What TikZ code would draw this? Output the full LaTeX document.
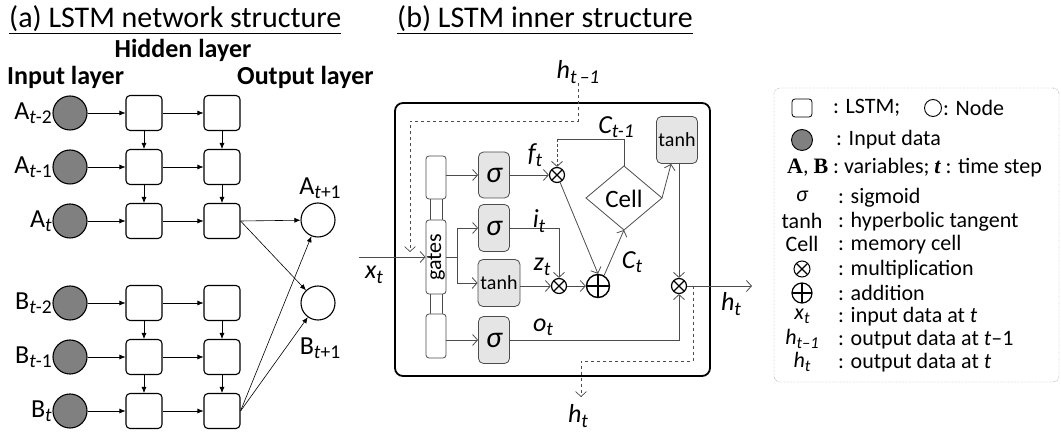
\documentclass[tikz,border=0pt]{standalone}
\usepackage{fontspec}
\setmainfont{Carlito}
\newfontfamily\tnr{Liberation Serif}
\usetikzlibrary{arrows.meta,calc}
\newcommand\sbs[2]{#1\raisebox{-0.35ex}{\scalebox{0.75}{#2}}}
\newcommand\fs[1]{\fontsize{#1}{#1}\selectfont}
\begin{document}
\begin{tikzpicture}[x=1pt,y=-1pt,
  lbox/.style={draw, rounded corners=4pt, minimum width=36pt, minimum height=35pt, line width=1.1pt},
  inp/.style={circle, draw, fill=black!50, minimum size=34pt, inner sep=0pt, line width=1.1pt},
  outn/.style={circle, draw, minimum size=34pt, inner sep=0pt, line width=1.1pt},
  larr/.style={-{Latex[length=6pt,width=5pt]}, line width=0.6pt},
  gbox/.style={draw=black!70, fill=black!10, rounded corners=5pt, line width=0.8pt, inner sep=0pt},
  wbar/.style={draw=black!70, fill=white, rounded corners=3pt, line width=0.8pt, inner sep=0pt, minimum width=20pt},
  marr/.style={-{Straight Barb[length=5pt,width=11pt]}, draw=black!70, line width=0.8pt},
  mline/.style={draw=black!70, line width=0.8pt},
  mul/.style={circle, draw, line width=1.2pt, minimum size=15pt, inner sep=0pt,
    path picture={\draw[line width=1.2pt] (path picture bounding box.south west) -- (path picture bounding box.north east)
      (path picture bounding box.north west) -- (path picture bounding box.south east);}},
  addn/.style={circle, draw, line width=1.4pt, minimum size=23pt, inner sep=0pt,
    path picture={\draw[line width=1.4pt] (path picture bounding box.south) -- (path picture bounding box.north)
      (path picture bounding box.west) -- (path picture bounding box.east);}},
  lab/.style={font=\fs{26}\itshape, inner sep=0pt},
  leg/.style={font=\fs{22}, anchor=west, inner sep=0pt},
  legs/.style={font=\fs{22}, inner sep=0pt},
]
\useasboundingbox (0,0) rectangle (1061,435);

% ---------- (a) ----------
\node[anchor=west, inner sep=0pt, font=\fs{30}] (ta) at (9,20) {\underline{(a) LSTM network structure}};
\node[font=\fs{26}\bfseries, inner sep=0pt] (hid) at (183,50) {Hidden layer};
\node[font=\fs{26}\bfseries, inner sep=0pt, anchor=west] (inl) at (7,77) {Input layer};
\node[font=\fs{26}\bfseries, inner sep=0pt, anchor=west] (oul) at (237,77) {Output layer};

\foreach \n/\y/\l in {A1/113/{A}{\textit{t}-2}, A2/167/{A}{\textit{t}-1}, A3/221/{A}{\textit{t}},
                      B1/303/{B}{\textit{t}-2}, B2/357/{B}{\textit{t}-1}, B3/411/{B}{\textit{t}}}{
  \node[inp] (\n i) at (70,\y) {};
  \node[lbox] (\n a) at (144,\y) {};
  \node[lbox] (\n b) at (222,\y) {};
  \node[anchor=east, inner sep=0pt, font=\fs{26}] (\n l) at (52,\y) {\expandafter\sbs\l};
  \draw[larr] (\n i) -- (\n a);
  \draw[larr] (\n a) -- (\n b);
}
\foreach \u/\v in {A1/A2, A2/A3, B1/B2, B2/B3}{
  \draw[larr] (\u a) -- (\v a);
  \draw[larr] (\u b) -- (\v b);
}
\node[outn] (oA) at (318,220) {};
\node[outn] (oB) at (318,303) {};
\node[font=\fs{26}, inner sep=0pt] (oAl) at (320,188) {\sbs{A}{\textit{t}+1}};
\node[font=\fs{26}, inner sep=0pt] (oBl) at (320,348) {\sbs{B}{\textit{t}+1}};
\draw[larr] (A3b.east) -- (oA);
\draw[larr] (A3b.east) -- (oB);
\draw[larr] (B3b.east) -- (oA);
\draw[larr] (B3b.east) -- (oB);

% ---------- (b) ----------
\node[anchor=west, inner sep=0pt, font=\fs{30}] (tb) at (397,20) {\underline{(b) LSTM inner structure}};
\node[draw, line width=1.8pt, rounded corners=8pt, minimum width=315pt, minimum height=273pt, inner sep=0pt] (outer) at (552.5,239.5) {};

% gates column
\node[wbar, minimum height=24pt, minimum width=12pt, rounded corners=0pt] (c1) at (436,209) {};
\node[wbar, minimum height=24pt, minimum width=12pt, rounded corners=0pt] (c2) at (436,304) {};
\node[wbar, minimum height=43pt] (g1) at (436,177.5) {};
\node[wbar, minimum height=74pt] (g2) at (436,257) {};
\node[rotate=90, font=\fs{22}, inner sep=0pt] (gt) at (436,257) {gates};
\node[wbar, minimum height=44pt] (g3) at (436,336) {};

% gate boxes
\node[gbox, minimum width=31pt, minimum height=46pt, font=\fs{30}\itshape] (s1) at (494,175) {σ};
\node[gbox, minimum width=31pt, minimum height=47pt, font=\fs{30}\itshape] (s2) at (494,228) {σ};
\node[gbox, minimum width=42pt, minimum height=47pt, font=\fs{20}] (th) at (499,283) {tanh};
\node[gbox, minimum width=31pt, minimum height=47pt, font=\fs{30}\itshape] (s3) at (494,340) {σ};

% operators
\node[mul] (m1) at (557,175) {};
\node[mul] (m2) at (559,286) {};
\node[mul] (m3) at (679,286) {};
\node[addn] (pl) at (598,286) {};

% cell
\coordinate (cL) at (586,198);
\coordinate (cT) at (624,166);
\coordinate (cR) at (662,198);
\coordinate (cB) at (624,230);
\draw[mline] (cL) -- (cT) -- (cR) -- (cB) -- cycle;
\node[font=\fs{25}, inner sep=0pt] (cell) at (624,199) {Cell};
\node[gbox, minimum width=41pt, minimum height=47pt, font=\fs{20}] (th2) at (677,140) {tanh};

% input lines
\coordinate (xin) at (359,257);
\draw[marr] (xin) -- (g2.west);
\node[lab] (xl) at (374,275) {\sbs{x}{t}};
\node[lab] (hp) at (578,72) {\sbs{h}{t\,–1}};
\coordinate (d1) at (410,121);
\coordinate (d2) at (410,252);
\draw[marr, dashed, line width=0.7pt] (hp.south) |- (d1) -- (d2);

\draw[marr] (g1.east |- s1) -- (s1.west);
\coordinate (br) at (457,257);
\draw[mline] (g2.east) -- (br);
\draw[marr] (br) |- (s2.west);
\draw[marr] (br) |- (th.west);
\draw[marr] (g3.east |- s3) -- (s3.west);

\draw[marr] (s1.east) -- (m1.west);
\draw[marr] (s2.east) -| (m2.north);
\draw[marr] (th.east |- m2) -- (m2.west);
\draw[marr] (m2.east) -- (pl.west);
\draw[marr] (m1) -- (pl.north);
\draw[marr] (pl.60) -- (cB);
\coordinate (cp) at (557,139);
\draw[mline] (cT) |- (cp);
\draw[marr, densely dashed] (cp) -- (m1.north);
\draw[marr] (cR) -- ([xshift=15pt]th2.south west);
\draw[marr] (th2.south -| m3) -- (m3.north);
\draw[marr] (s3.east) -| (m3.south);
\coordinate (hout) at (752,286);
\draw[marr] (m3.east) -- (hout);
\coordinate (tap) at (693,286);
\coordinate (dh) at (581,361);
\coordinate (hdn) at (581,397);
\draw[marr, dashed, line width=0.7pt] (tap) |- (dh) -- (hdn);

\node[lab] (fl) at (535,155) {\sbs{f}{t}};
\node[lab] (il) at (539,221) {\sbs{i}{t}};
\node[lab] (zl) at (542,267) {\sbs{z}{t}};
\node[lab] (ol) at (543,327) {\sbs{o}{t}};
\node[lab] (ctl) at (632,262) {\sbs{C}{t}};
\node[lab] (cpl) at (616,127) {\sbs{C}{t-1}};
\node[lab] (hol) at (731,304) {\sbs{h}{t}};
\node[lab] (hdl) at (578,416) {\sbs{h}{t}};

% ---------- legend ----------
\node[draw=black!60, densely dotted, rounded corners=6pt, minimum width=285pt, minimum height=294pt, inner sep=0pt] (legbox) at (916.5,235) {};
\node[draw, rounded corners=3pt, minimum width=20pt, minimum height=18pt, inner sep=0pt, line width=0.8pt] (ls) at (802,108) {};
\node[leg] (t1) at (833,108) {: LSTM;};
\node[circle, draw, minimum size=17pt, inner sep=0pt, line width=0.9pt] (lc) at (933,108) {};
\node[leg] (t1b) at (943,108) {: Node};
\node[circle, draw, fill=black!50, minimum size=21pt, inner sep=0pt, line width=0.9pt] (lg) at (802,140) {};
\node[leg] (t2) at (836,140) {: Input data};
\node[leg] (t3) at (787,168) {{\tnr\bfseries A}, {\tnr\bfseries B} : variables; {\tnr\bfseries\itshape t} : time step};
\node[legs, font=\fs{22}\itshape] (l4) at (802,196) {σ};
\node[leg] (t4) at (838,198) {: sigmoid};
\node[legs] (l5) at (802,221) {tanh};
\node[leg] (t5) at (838,222) {: hyperbolic tangent};
\node[legs] (l6) at (802,244) {Cell};
\node[leg] (t6) at (838,245) {: memory cell};
\node[mul, minimum size=16pt, line width=1pt] (l7) at (802,269) {};
\node[leg] (t7) at (838,270) {: multiplication};
\node[addn, minimum size=20pt, line width=1.2pt] (l8) at (802,293) {};
\node[leg] (t8) at (838,293) {: addition};
\node[legs, font=\fs{22}\itshape] (l9) at (802,316) {\sbs{x}{t}};
\node[leg] (t9) at (838,317) {: input data at \textit{t}};
\node[legs, font=\fs{22}\itshape] (l10) at (802,339) {\sbs{h}{t–1}};
\node[leg] (t10) at (838,340) {: output data at \textit{t}–1};
\node[legs, font=\fs{22}\itshape] (l11) at (802,362) {\sbs{h}{t}};
\node[leg] (t11) at (838,363) {: output data at \textit{t}};
\end{tikzpicture}
\end{document}
